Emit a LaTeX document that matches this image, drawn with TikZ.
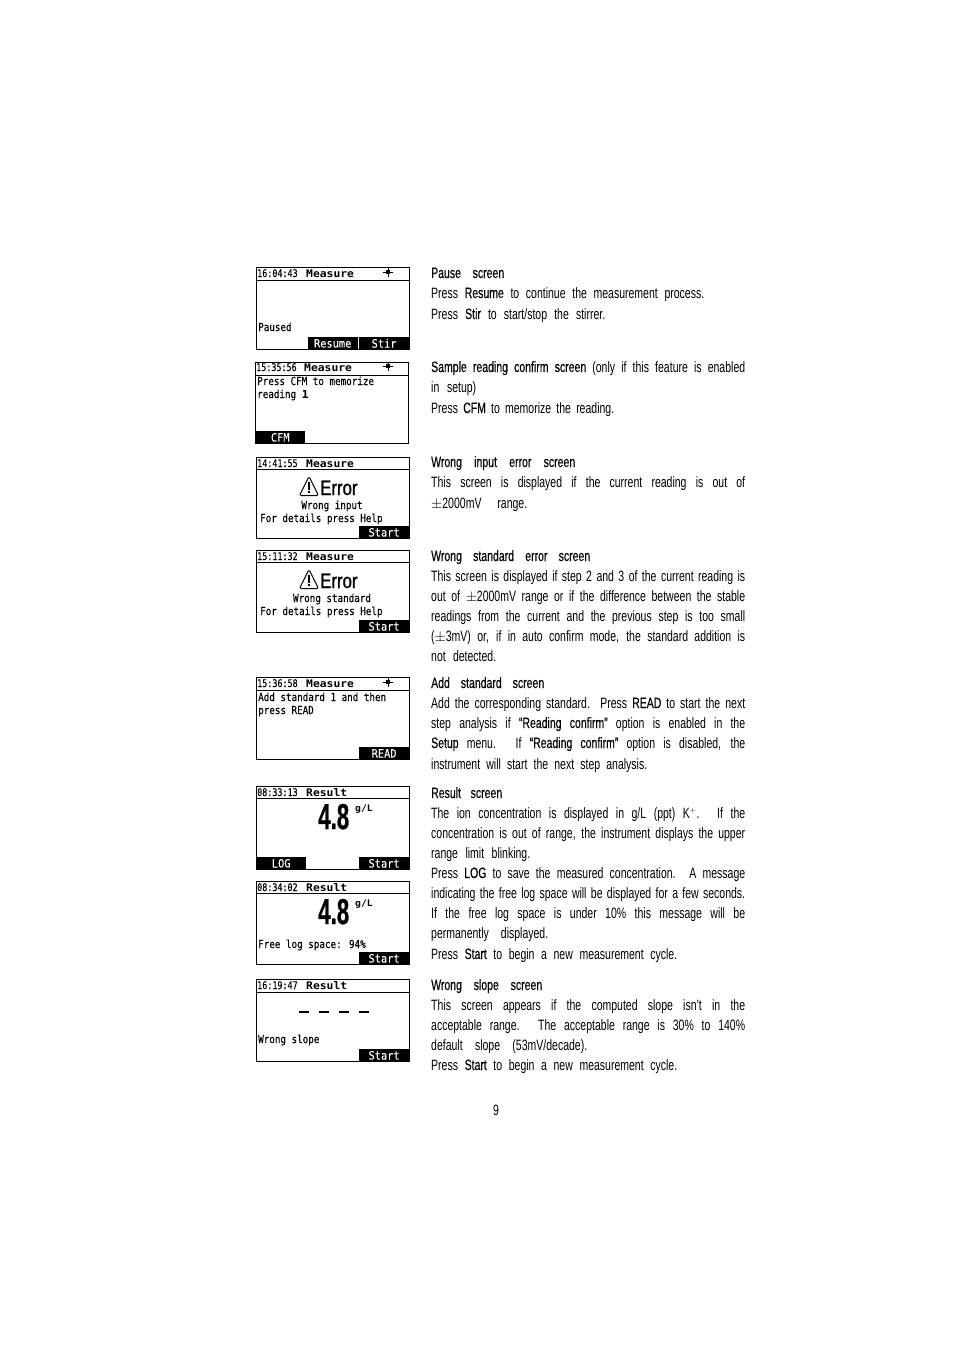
\documentclass[tikz,border=0pt]{standalone}
\usepackage{fontspec}
\usepackage{amsmath,amssymb}
\usepackage{xcolor}
\usetikzlibrary{positioning}
\setmainfont[FakeStretch=.7]{Liberation Sans}
\newfontfamily\headfont[FakeStretch=.7,FakeBold=.3]{Liberation Sans}
\newfontfamily\lcdfont[FakeStretch=.84,FakeBold=.2]{DejaVu Sans Mono}
\newfontfamily\keyfont[FakeStretch=.9,FakeBold=.1]{DejaVu Sans Mono}
\newfontfamily\clockfont[FakeStretch=.8,FakeBold=.15]{DejaVu Sans Mono}
\newfontfamily\lcdhead[FakeStretch=1.08]{DejaVu Sans Mono Bold}
\newfontfamily\errfont[FakeStretch=.8,FakeBold=1]{Liberation Sans}
\newfontfamily\bignum[FakeStretch=.62,FakeBold=.6]{Liberation Sans Bold}
\newcommand{\tline}[2]{\makebox[#1pt][s]{#2}}
\tikzset{
  screenbox/.style={draw,line width=.8pt,anchor=north west,inner sep=0,minimum width=152.5pt},
  headbar/.style={anchor=north west,inner sep=0,minimum width=152.5pt,minimum height=13pt},
  headline/.style={line width=1.3pt},
  softkey/.style={fill=black,text=white,inner sep=0,minimum width=50pt,minimum height=12.5pt,font=\fontsize{11.5}{12}\keyfont},
  clock/.style={anchor=base west,inner sep=0,font=\fontsize{10.5}{12}\clockfont},
  title/.style={anchor=base west,inner sep=0,font=\fontsize{10.5}{12}\lcdhead},
  lcdtext/.style={anchor=base west,inner sep=0,font=\fontsize{11}{12}\lcdfont},
  errword/.style={anchor=base west,inner sep=0,font=\fontsize{21}{22}\errfont},
  reading/.style={anchor=base west,inner sep=0,font=\fontsize{36}{36}\bignum},
  unit/.style={anchor=base west,inner sep=0,font=\fontsize{9}{10}\lcdhead},
  bodyline/.style={anchor=base west,inner sep=0,font=\fontsize{15}{20}\selectfont},
  stiricon/.pic={
    \draw[line width=.8pt] (-5,0)--(5,0) (0,-4.5)--(0,5);
    \fill (-2,-2.5) rectangle (2,1.5);
  },
  warnsign/.pic={
    \draw[line width=1pt,line join=round,rounded corners=1.5pt] (-9.5,9.5)--(0,-9.5)--(9.5,9.5)--cycle;
    \fill (-1,-4.5) rectangle (1,3.5);
    \fill (-1,5) rectangle (1,7);
  }
}
\begin{document}
\begin{tikzpicture}[x=1pt,y=-1pt]
\useasboundingbox (0,0) rectangle (954,1351);
% pause screen
\node[screenbox,minimum height=82pt] (pauseBox) at (256,267) {};
\node[headbar] (pauseHead) at (pauseBox.north west) {};
\draw[headline] (pauseHead.south west)--(pauseHead.south east);
\node[clock] (pauseTime) at (257,277) {16:04:43};
\node[title] (pauseTitle) at (306,277) {Measure};
\pic at (388,272) {stiricon};
\node[lcdtext] (pauseMsg) at (258,331) {Paused};
\node[softkey,anchor=south east] (pauseStir) at (pauseBox.south east) {Stir};
\node[softkey,left=1pt of pauseStir] (pauseResume) {Resume};
% confirm screen
\node[screenbox,minimum height=81pt] (cfmBox) at (255,362) {};
\node[headbar] (cfmHead) at (cfmBox.north west) {};
\draw[headline] (cfmHead.south west)--(cfmHead.south east);
\node[clock] (cfmTime) at (256,371) {15:35:56};
\node[title] (cfmTitle) at (304,371) {Measure};
\pic at (388,366) {stiricon};
\node[lcdtext] (cfmMsgA) at (257,385) {Press CFM to memorize};
\node[lcdtext] (cfmMsgB) at (257,398) {reading {\lcdhead 1}};
\node[softkey,anchor=south west] (cfmKey) at (cfmBox.south west) {CFM};
% wrong input screen
\node[screenbox,minimum height=81pt] (inputBox) at (256,457) {};
\node[headbar,minimum height=12pt] (inputHead) at (inputBox.north west) {};
\draw[headline] (inputHead.south west)--(inputHead.south east);
\node[clock] (inputTime) at (257,467) {14:41:55};
\node[title] (inputTitle) at (306,467) {Measure};
\pic at (309,486) {warnsign};
\node[errword] (inputErr) at (320,495) {Error};
\node[lcdtext,anchor=base] (inputMsg) at (332,509) {Wrong input};
\node[lcdtext] (inputHelp) at (260,522) {For details press Help};
\node[softkey,anchor=south east] (inputStart) at (inputBox.south east) {Start};
% wrong standard screen
\node[screenbox,minimum height=82pt] (stdBox) at (256,550) {};
\node[headbar,minimum height=12pt] (stdHead) at (stdBox.north west) {};
\draw[headline] (stdHead.south west)--(stdHead.south east);
\node[clock] (stdTime) at (257,560) {15:11:32};
\node[title] (stdTitle) at (306,560) {Measure};
\pic at (309,579) {warnsign};
\node[errword] (stdErr) at (320,588) {Error};
\node[lcdtext,anchor=base] (stdMsg) at (332,602) {Wrong standard};
\node[lcdtext] (stdHelp) at (260,615) {For details press Help};
\node[softkey,anchor=south east] (stdStart) at (stdBox.south east) {Start};
% add standard screen
\node[screenbox,minimum height=82pt] (addBox) at (256,677) {};
\node[headbar] (addHead) at (addBox.north west) {};
\draw[headline] (addHead.south west)--(addHead.south east);
\node[clock] (addTime) at (257,687) {15:36:58};
\node[title] (addTitle) at (306,687) {Measure};
\pic at (388,682) {stiricon};
\node[lcdtext] (addMsgA) at (258,701) {Add standard 1 and then};
\node[lcdtext] (addMsgB) at (258,714) {press READ};
\node[softkey,anchor=south east] (addKey) at (addBox.south east) {READ};
% result screen
\node[screenbox,minimum height=83pt] (resBox) at (256,786) {};
\node[headbar,minimum height=12pt] (resHead) at (resBox.north west) {};
\draw[headline] (resHead.south west)--(resHead.south east);
\node[clock] (resTime) at (257,796) {08:33:13};
\node[title] (resTitle) at (306,796) {Result};
\node[reading] (resValue) at (318,829) {4.8};
\node[unit] (resUnit) at (355,811) {g/L};
\node[softkey,anchor=south west] (resLog) at (resBox.south west) {LOG};
\node[softkey,anchor=south east] (resStart) at (resBox.south east) {Start};
% log space screen
\node[screenbox,minimum height=83pt] (logBox) at (256,881) {};
\node[headbar,minimum height=12pt] (logHead) at (logBox.north west) {};
\draw[headline] (logHead.south west)--(logHead.south east);
\node[clock] (logTime) at (257,891) {08:34:02};
\node[title] (logTitle) at (306,891) {Result};
\node[reading] (logValue) at (318,924) {4.8};
\node[unit] (logUnit) at (355,906) {g/L};
\node[lcdtext] (logMsg) at (258,948) {Free log space: 94\%};
\node[softkey,anchor=south east] (logStart) at (logBox.south east) {Start};
% wrong slope screen
\node[screenbox,minimum height=82pt] (slopeBox) at (256,979) {};
\node[headbar] (slopeHead) at (slopeBox.north west) {};
\draw[headline] (slopeHead.south west)--(slopeHead.south east);
\node[clock] (slopeTime) at (257,989) {16:19:47};
\node[title] (slopeTitle) at (306,989) {Result};
\draw[line width=2.5pt,dash pattern=on 10pt off 10pt] (299,1012)--(369,1012);
\node[lcdtext] (slopeMsg) at (258,1043) {Wrong slope};
\node[softkey,anchor=south east] (slopeStart) at (slopeBox.south east) {Start};
% text column
\node[bodyline] (pauseA) at (431,278) {\tline{73}{\headfont Pause screen}};
\node[bodyline] (pauseB) at (431,298) {\tline{273}{Press {\headfont Resume} to continue the measurement process.}};
\node[bodyline] (pauseC) at (431,319) {\tline{174}{Press {\headfont Stir} to start/stop the stirrer.}};
\node[bodyline] (sampleA) at (431,372) {\tline{314}{{\headfont Sample reading confirm screen} (only if this feature is enabled}};
\node[bodyline] (sampleB) at (431,392) {\tline{45}{in setup)}};
\node[bodyline] (sampleC) at (431,413) {\tline{183}{Press {\headfont CFM} to memorize the reading.}};
\node[bodyline] (inputA) at (431,467) {\tline{144}{\headfont Wrong input error screen}};
\node[bodyline] (inputB) at (431,487) {\tline{314}{This screen is displayed if the current reading is out of}};
\node[bodyline] (inputC) at (431,508) {\tline{96}{$\pm$2000mV range.}};
\node[bodyline] (stdA) at (431,561) {\tline{159}{\headfont Wrong standard error screen}};
\node[bodyline] (stdB) at (431,581) {\tline{314}{This screen is displayed if step 2 and 3 of the current reading is}};
\node[bodyline] (stdC) at (431,601) {\tline{314}{out of $\pm$2000mV range or if the difference between the stable}};
\node[bodyline] (stdD) at (431,621) {\tline{314}{readings from the current and the previous step is too small}};
\node[bodyline] (stdE) at (431,641) {\tline{314}{($\pm$3mV) or, if in auto confirm mode, the standard addition is}};
\node[bodyline] (stdF) at (431,661) {\tline{65}{not detected.}};
\node[bodyline] (addA) at (431,688) {\tline{113}{\headfont Add standard screen}};
\node[bodyline] (addB) at (431,708) {\tline{314}{Add the corresponding standard. Press {\headfont READ} to start the next}};
\node[bodyline] (addC) at (431,728) {\tline{314}{step analysis if {\headfont “Reading confirm”} option is enabled in the}};
\node[bodyline] (addD) at (431,748) {\tline{314}{{\headfont Setup} menu. If {\headfont “Reading confirm”} option is disabled, the}};
\node[bodyline] (addE) at (431,769) {\tline{216}{instrument will start the next step analysis.}};
\node[bodyline] (resA) at (431,798) {\tline{71}{\headfont Result screen}};
\node[bodyline] (resB) at (431,818) {\tline{314}{The ion concentration is displayed in g/L (ppt) K$^{\scriptscriptstyle +}$. If the}};
\node[bodyline] (resC) at (431,838) {\tline{314}{concentration is out of range, the instrument displays the upper}};
\node[bodyline] (resD) at (431,858) {\tline{99}{range limit blinking.}};
\node[bodyline] (resE) at (431,878) {\tline{314}{Press {\headfont LOG} to save the measured concentration. A message}};
\node[bodyline] (resF) at (431,898) {\tline{314}{indicating the free log space will be displayed for a few seconds.}};
\node[bodyline] (resG) at (431,918) {\tline{314}{If the free log space is under 10\% this message will be}};
\node[bodyline] (resH) at (431,938) {\tline{117}{permanently displayed.}};
\node[bodyline] (resI) at (431,959) {\tline{246}{Press {\headfont Start} to begin a new measurement cycle.}};
\node[bodyline] (slopeA) at (431,990) {\tline{111}{\headfont Wrong slope screen}};
\node[bodyline] (slopeB) at (431,1010) {\tline{314}{This screen appears if the computed slope isn’t in the}};
\node[bodyline] (slopeC) at (431,1030) {\tline{314}{acceptable range. The acceptable range is 30\% to 140\%}};
\node[bodyline] (slopeD) at (431,1050) {\tline{156}{default slope (53mV/decade).}};
\node[bodyline] (slopeE) at (431,1070) {\tline{246}{Press {\headfont Start} to begin a new measurement cycle.}};
\node[bodyline,anchor=base] (pageNo) at (496,1115) {9};
\end{tikzpicture}
\end{document}
